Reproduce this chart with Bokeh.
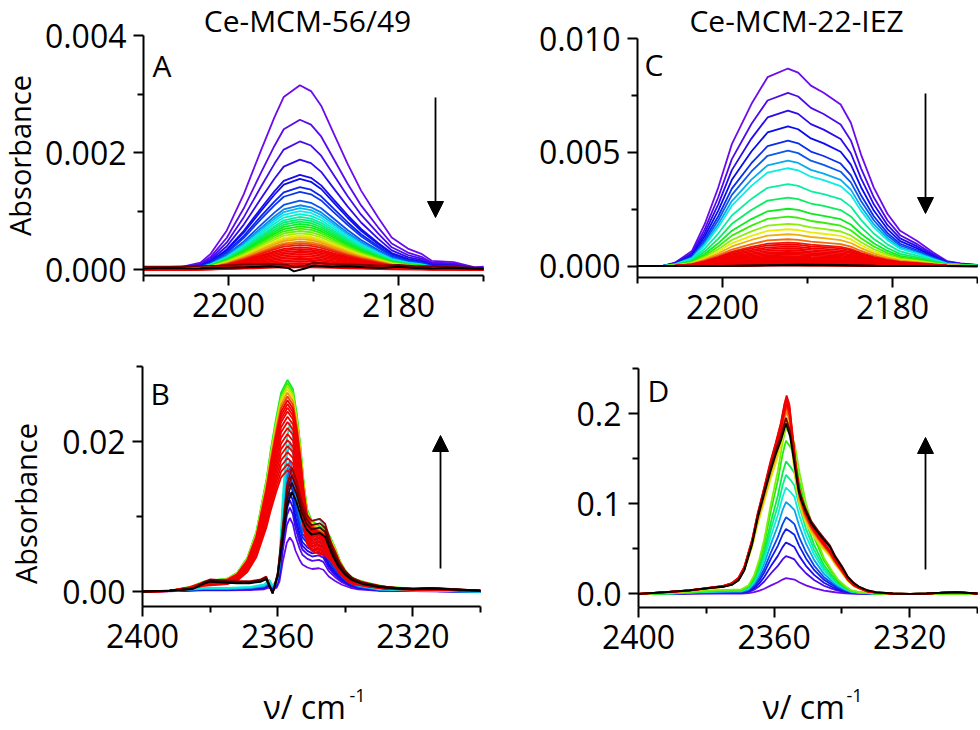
import colorsys
import numpy as np
from bokeh.plotting import figure
from bokeh.layouts import column, row
from bokeh.models import Range1d, FixedTicker, Label, Arrow, NormalHead
from bokeh.embed import file_html
from bokeh.resources import INLINE

FONT = "Open Sans"

# ------------------------------------------------------------------ data
# Panel A  (Ce-MCM-56/49, CO region) : template = top (violet) spectrum, values x1e-3
A_x = [2210, 2206, 2203.3, 2202.1, 2200.2, 2198.2, 2196.2, 2194.6, 2193.5, 2191.6, 2190.3,
       2189.1, 2187.6, 2186, 2184.4, 2182.4, 2180.8, 2178.9, 2177.3, 2176.1, 2173.5, 2171, 2170]
A_top = [0.02, 0.03, 0.12, 0.27, 0.67, 1.29, 2.03, 2.6, 2.95, 3.15, 3.05,
         2.8, 2.32, 1.81, 1.35, 0.89, 0.55, 0.36, 0.27, 0.15, 0.13, 0.04, 0.05]
A_peaks = [3.15, 2.56, 2.19, 1.88, 1.62, 1.55, 1.41, 1.33, 1.18, 1.10, 1.05, 1.00, 0.95, 0.90,
           0.86, 0.82, 0.78, 0.74, 0.70, 0.66, 0.62, 0.58, 0.55, 0.52, 0.48, 0.45, 0.42, 0.38,
           0.35, 0.32, 0.29, 0.26, 0.23, 0.20, 0.17, 0.14, 0.11, 0.08, 0.06, 0.04]
A_end_x = [2210, 2207, 2204, 2201, 2198, 2195, 2193, 2192.3, 2191, 2190, 2188, 2186, 2184,
           2182, 2180, 2178, 2176, 2174, 2172, 2170]
A_darkred = [0.05, 0.05, 0.06, 0.07, 0.09, 0.10, 0.08, 0.04, 0.07, 0.12, 0.10, 0.09, 0.08,
             0.07, 0.08, 0.06, 0.06, 0.05, 0.04, 0.03]
A_black = [0.02, 0.03, 0.02, 0.03, 0.04, 0.06, 0.03, -0.03, 0.02, 0.07, 0.05, 0.06, 0.04,
           0.03, 0.05, 0.03, 0.02, 0.03, 0.02, 0.01]

# Panel C  (Ce-MCM-22-IEZ, CO region), values x1e-3
C_x = [2210, 2207, 2205.6, 2203.6, 2202.1, 2200.5, 2198.9, 2196.6, 2194.7, 2192.3, 2191.1,
       2189.6, 2188.1, 2186.1, 2184.9, 2183.7, 2182.2, 2180.6, 2179.1, 2177.1, 2175.2, 2173.6, 2172, 2170]
C_top = [0.0, 0.01, 0.15, 0.66, 1.84, 3.45, 5.36, 7.12, 8.3, 8.68, 8.5,
         7.93, 7.62, 7.1, 6.3, 4.9, 3.45, 2.3, 1.55, 1.1, 0.6, 0.22, 0.12, 0.05]
C_peaks = [8.68, 7.61, 6.83, 6.14, 5.51, 5.07, 4.63, 4.30, 3.60, 3.01, 2.52, 2.17, 1.86, 1.62,
           1.40, 1.18, 1.03, 0.95, 0.86, 0.78, 0.70, 0.63, 0.56, 0.50, 0.44, 0.39, 0.34, 0.30,
           0.26, 0.22, 0.18, 0.15, 0.12, 0.09, 0.07, 0.05, 0.03]
C_end_x = [2210, 2200, 2195, 2191, 2186, 2182, 2178, 2174, 2170]
C_black = [0.0, 0.0, 0.04, 0.06, 0.05, 0.02, 0.01, 0.0, -0.02]

# Panel B  (Ce-MCM-56/49, CO2 region), values x1e-3
B_nx = [2400, 2390, 2382, 2375, 2368, 2364, 2362.5, 2361.5, 2360.3, 2359.5, 2358.5, 2357.3,
        2356.4, 2355.5, 2354.7, 2353.5, 2352.7, 2351.2, 2349.8, 2347.8, 2346.5, 2344.9, 2343,
        2341, 2338.5, 2336.2, 2330, 2320, 2300]
B_ny = [0, 0.05, 0.15, 0.15, 0.2, 0.3, 0.5, 0.25, 0.5, 1.3, 4.0, 6.5,
        7.2, 6.6, 5.4, 4.2, 3.6, 3.2, 3.0, 3.1, 2.9, 2.0, 1.4,
        0.9, 0.5, 0.3, 0.1, 0.05, 0]
B_n_peaks = [7.2, 9.8, 11.2, 12.2, 13.2, 14.5, 15.4, 16.5, 17.5, 20.0, 22.5]
B_bx = [2400, 2392, 2386, 2382, 2379, 2375, 2372, 2369, 2366.3, 2364.8, 2363.3, 2362, 2360.5,
        2359, 2357.1, 2355.5, 2354.3, 2353.3, 2352.3, 2351.3, 2350, 2348, 2346, 2344.5, 2343,
        2341.5, 2339.5, 2337.5, 2333, 2328, 2320, 2312, 2305, 2300]
B_by = [0, 0.1, 0.6, 1.3, 1.5, 1.7, 2.5, 4.5, 8.0, 11.5, 15.0, 19.0, 23.0,
        26.5, 28.2, 27.0, 23.5, 19.5, 14.5, 11.0, 9.5, 8.8, 8.3, 7.3, 5.8,
        4.0, 2.4, 1.7, 1.1, 0.6, 0.4, 0.4, 0.2, 0.1]
B_b_peaks = [28.2, 27.8, 27.4, 27.0, 26.5, 26.0, 25.5, 25.0, 24.5, 24.0, 23.3, 22.6, 21.8,
             21.0, 20.2, 19.4, 18.6, 17.8, 17.0, 16.2]
B_kx = [2400, 2392, 2386, 2384.8, 2382, 2379.9, 2376, 2372, 2368.3, 2365, 2363.4, 2361.5,
        2360, 2358.5, 2357.2, 2355.8, 2354.5, 2353, 2351.5, 2350, 2347.5, 2346, 2344, 2342,
        2340.2, 2338, 2335, 2330, 2325, 2320, 2315, 2310, 2305, 2300]
B_ky = [0, 0.1, 0.3, 0.4, 1.0, 1.3, 1.2, 1.1, 1.1, 1.3, 1.6, -0.2,
        2.0, 7.0, 11.5, 13.3, 12.0, 9.8, 8.3, 7.6, 7.8, 7.3, 5.0, 3.3,
        2.3, 1.5, 1.0, 0.6, 0.4, 0.3, 0.4, 0.3, 0.2, 0.1]
B_k_peaks = [16.5, 15.5, 14.5, 13.3]

# Panel D  (Ce-MCM-22-IEZ, CO2 region), values x1e-3
D_nx = [2400, 2390, 2382, 2376, 2372, 2369.7, 2367.5, 2365.9, 2364.3, 2362.9, 2360.9, 2358.9,
        2357.5, 2356.5, 2355.2, 2354, 2352.6, 2350.6, 2348.2, 2345.3, 2343, 2341.2, 2339,
        2337.4, 2335, 2330, 2320, 2310, 2300]
D_ny = [0, 0.8, 3.0, 4.0, 4.5, 4.5, 9.0, 19, 36, 56, 93, 126,
        155, 170, 163, 155, 126, 93, 63, 37, 24, 15, 8,
        4, 2, 0.5, 0, 0.5, 0]
D_n_peaks = [17.5, 42, 57, 72, 85, 102, 118, 132, 147, 170, 184]
D_rx = [2400, 2392, 2385, 2379, 2375, 2372.5, 2370.5, 2368.8, 2366.5, 2364.8, 2363, 2361,
        2359.5, 2358, 2357, 2356.3, 2355.5, 2354.5, 2353.5, 2352.5, 2351, 2349, 2347, 2345.3,
        2343.5, 2342, 2340, 2338.3, 2336.5, 2335, 2332.5, 2330, 2325, 2320, 2315, 2310, 2306, 2300]
D_ry = [0, 2, 4, 7, 9, 12, 18, 30, 60, 90, 117, 148,
        168, 190, 210, 220, 210, 175, 140, 115, 95, 78, 66, 57,
        48, 38, 27, 17, 10, 7, 3, 1.5, 0.5, 0, 0.5, 1.5, 2, 0.5]
D_r_peaks = [190, 196, 202, 207, 211, 215, 218, 220]
D_kx = [2400, 2392, 2385, 2379, 2375, 2372.5, 2370.5, 2368.8, 2366.5, 2364.8, 2363, 2361,
        2359.5, 2358, 2356.5, 2355.3, 2354, 2352.8, 2352, 2350.5, 2349, 2347, 2345.3, 2343.5,
        2342, 2340, 2338.3, 2336.5, 2335, 2332.5, 2330, 2325, 2320, 2315, 2310, 2306, 2300]
D_ky = [0, 2, 4, 6.6, 8, 10, 15, 26, 55, 85, 110, 137,
        155, 170, 189, 175, 144, 115, 104, 90, 78, 68, 60, 52,
        41, 30, 19, 12, 8, 4, 2, 0.5, 0, 0.5, 1.5, 2, 0.5]
D_k_peaks = [195, 189]

# axis ranges, ticks and labels
CO_xrange = (2210, 2170)
CO2_xrange = (2400, 2300)
A_yrange = (-0.0001, 0.004)
C_yrange = (-0.0005, 0.010)
B_yrange = (-0.002, 0.03)
D_yrange = (-0.015, 0.25)
A_yticks = [0, 0.002, 0.004]; A_ylabels = ["0.000", "0.002", "0.004"]; A_yminor = [0.001, 0.003]
C_yticks = [0, 0.005, 0.010]; C_ylabels = ["0.000", "0.005", "0.010"]; C_yminor = [0.0025, 0.0075]
B_yticks = [0, 0.02]; B_ylabels = ["0.00", "0.02"]; B_yminor = [0.01, 0.03]
D_yticks = [0, 0.1, 0.2]; D_ylabels = ["0.0", "0.1", "0.2"]; D_yminor = [0.05, 0.15, 0.25]
CO_xticks = [2200, 2180]; CO_xlabels = ["2200", "2180"]; CO_xminor = [2210, 2190, 2170]
CO2_xticks = [2400, 2360, 2320]; CO2_xlabels = ["2400", "2360", "2320"]; CO2_xminor = [2380, 2340, 2300]

TITLE_A = "Ce-MCM-56/49"
TITLE_C = "Ce-MCM-22-IEZ"
YLABEL = "Absorbance"
XLABEL = "\u03bd/ cm"
XLABEL_SUP = "-1"

# ------------------------------------------------------------------ styling helpers
RED = "#f20000"
HUE_T = [0, 0.3, 0.42, 0.7, 0.82, 0.92, 1.0]
HUE_H = [266, 224, 182, 105, 58, 32, 4]
BASELINE_SHIFT = 0.4   # empirical shift of the label anchor, in em


def hsv(h, s=0.95, v=0.93):
    r, g, b = colorsys.hsv_to_rgb(h / 360.0, s, v)
    return "#%02x%02x%02x" % (int(r * 255), int(g * 255), int(b * 255))


def ramp(n, t0=0.0, t1=1.0):
    return [hsv(float(np.interp(t, HUE_T, HUE_H))) for t in np.linspace(t0, t1, n)]


class Panel:
    """A figure whose frame fills the whole canvas; the axes are drawn at
    fixed locations so that the plotting box sits at `box` (canvas pixels)."""

    def __init__(self, origin, w, h, box, xr, yr, yt, yl, ym, xt, xl, xm):
        self.ox, self.oy = origin
        l, t, r, b = box
        self.kx = (xr[1] - xr[0]) / (r - l)
        self.x0 = xr[0] - l * self.kx
        self.ky = (yr[1] - yr[0]) / (b - t)
        self.ytop = yr[1] + t * self.ky
        x1 = self.x0 + w * self.kx
        ybot = self.ytop - h * self.ky
        p = figure(width=w, height=h, x_range=Range1d(self.x0, x1),
                   y_range=Range1d(ybot, self.ytop),
                   output_backend="svg", toolbar_location=None,
                   min_border=0, min_border_left=0, min_border_right=0,
                   min_border_top=0, min_border_bottom=0)
        p.outline_line_color = None
        p.xgrid.visible = False
        p.ygrid.visible = False
        p.background_fill_color = "white"
        p.border_fill_color = "white"
        p.yaxis.ticker = FixedTicker(ticks=yt, minor_ticks=ym)
        p.yaxis.major_label_overrides = dict(zip(yt, yl))
        p.xaxis.ticker = FixedTicker(ticks=xt, minor_ticks=xm)
        p.xaxis.major_label_overrides = dict(zip(xt, xl))
        p.xaxis.fixed_location = yr[0]
        p.xaxis.bounds = (min(xr), max(xr))
        p.yaxis.fixed_location = xr[0]
        p.yaxis.bounds = (min(yr), max(yr))
        for ax in (p.xaxis[0], p.yaxis[0]):
            ax.axis_line_width = 2
            ax.axis_line_color = "black"
            ax.major_tick_line_width = 2
            ax.minor_tick_line_width = 2
            ax.major_tick_line_color = "black"
            ax.minor_tick_line_color = "black"
            ax.major_tick_out = 10
            ax.major_tick_in = 0
            ax.minor_tick_out = 6
            ax.minor_tick_in = 0
            ax.major_label_text_font = FONT
            ax.major_label_text_font_size = "32px"
            ax.major_label_text_color = "black"
            ax.major_label_standoff = 7
        self.p = p

    def dx(self, page_x):
        return self.x0 + (page_x - self.ox) * self.kx

    def dy(self, page_y):
        return self.ytop - (page_y - self.oy) * self.ky

    def family(self, x, template, peaks, colors, scale=1e-3, width=1.8):
        t = np.asarray(template, dtype=float)
        tmax = t.max()
        for pk, c in zip(peaks, colors):
            self.p.line(x, list(t * (pk / tmax) * scale), line_color=c, line_width=width)

    def text(self, page_x, page_y, text, size, rotated=False, align="left"):
        shift = BASELINE_SHIFT * size
        if rotated:
            page_x -= shift
        else:
            page_y -= shift
        self.p.add_layout(Label(x=self.dx(page_x), y=self.dy(page_y), text=text,
                                text_font=FONT, text_font_size="%dpx" % size,
                                text_color="black", angle=(np.pi / 2 if rotated else 0.0),
                                text_align=align, text_baseline="alphabetic"))

    def arrow(self, page_x, page_y0, page_y1):
        self.p.add_layout(Arrow(end=NormalHead(size=16, fill_color="black", line_color="black"),
                                x_start=self.dx(page_x), y_start=self.dy(page_y0),
                                x_end=self.dx(page_x), y_end=self.dy(page_y1),
                                line_width=1.8, line_color="black"))


# ------------------------------------------------------------------ panel A
A = Panel((0, 0), 490, 340, (143, 35, 483, 275), CO_xrange, A_yrange,
          A_yticks, A_ylabels, A_yminor, CO_xticks, CO_xlabels, CO_xminor)
A.family(A_x, A_top, A_peaks, ramp(27) + [RED] * (len(A_peaks) - 27))
A.p.line(A_end_x, [v * 1e-3 for v in A_darkred], line_color="#7a0000", line_width=1.8)
A.p.line(A_end_x, [v * 1e-3 for v in A_black], line_color="black", line_width=2)
A.text(307, 32, TITLE_A, 30, align="center")
A.text(152, 77, "A", 30)
A.text(31, 155, YLABEL, 29, rotated=True, align="center")
A.arrow(435, 97, 217)

# ------------------------------------------------------------------ panel C
C = Panel((490, 0), 488, 340, (147, 38, 487, 277), CO_xrange, C_yrange,
          C_yticks, C_ylabels, C_yminor, CO_xticks, CO_xlabels, CO_xminor)
C.family(C_x, C_top, C_peaks, ramp(17) + [RED] * (len(C_peaks) - 17))
C.family(C_x, C_top, [0.02], ["#7a0000"])
C.p.line(C_end_x, [v * 1e-3 for v in C_black], line_color="black", line_width=2)
C.text(796, 32, TITLE_C, 30, align="center")
C.text(644, 76, "C", 30)
C.arrow(925, 93, 213)

# ------------------------------------------------------------------ panel B
B = Panel((0, 340), 490, 388, (142, 26, 480, 266), CO2_xrange, B_yrange,
          B_yticks, B_ylabels, B_yminor, CO2_xticks, CO2_xlabels, CO2_xminor)
B.family(B_nx, B_ny, B_n_peaks, ramp(len(B_n_peaks), 0.0, 0.45))
B.family(B_bx, B_by, B_b_peaks, ramp(6, 0.62, 0.97) + [RED] * (len(B_b_peaks) - 6))
B.family(B_kx, B_ky, B_k_peaks, ["#a00000", "#6e0000", "#400000", "#000000"])
B.text(150, 405, "B", 30)
B.text(37, 503, YLABEL, 29, rotated=True, align="center")
B.text(263, 719, XLABEL, 32)
B.text(349, 702, XLABEL_SUP, 18)
B.arrow(440, 568, 435)

# ------------------------------------------------------------------ panel D
D = Panel((490, 340), 488, 388, (148, 28, 487, 267), CO2_xrange, D_yrange,
          D_yticks, D_ylabels, D_yminor, CO2_xticks, CO2_xlabels, CO2_xminor)
D.family(D_nx, D_ny, D_n_peaks, ramp(len(D_n_peaks), 0.0, 0.74))
D.family(D_rx, D_ry, D_r_peaks, ramp(4, 0.8, 0.97) + [RED] * (len(D_r_peaks) - 4))
D.family(D_kx, D_ky, D_k_peaks, ["#800000", "#000000"])
D.text(647, 402, "D", 30)
D.text(762, 719, XLABEL, 32)
D.text(846, 702, XLABEL_SUP, 18)
D.arrow(925, 569, 437)

layout = column(row(A.p, C.p), row(B.p, D.p))
open("out.html", "w").write(file_html(layout, INLINE))
